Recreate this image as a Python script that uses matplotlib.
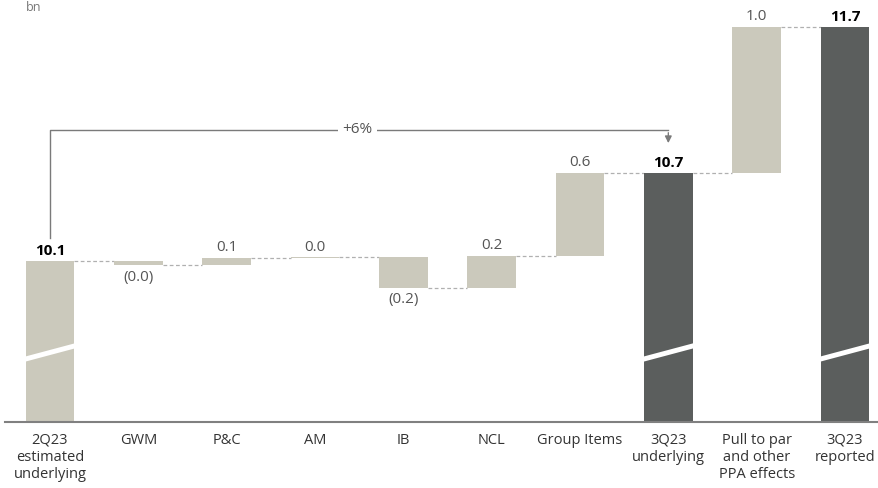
import numpy as np
import matplotlib.pyplot as plt

categories = ['2Q23\nestimated\nunderlying', 'GWM', 'P&C', 'AM', 'IB', 'NCL',
              'Group Items', '3Q23\nunderlying', 'Pull to par\nand other\nPPA effects',
              '3Q23\nreported']
start_value = 10.1
segment_deltas = [-0.03, 0.05, 0.005, -0.21, 0.22, 0.565]
ppa_delta = 1.0
value_labels = ['10.1', '(0.0)', '0.1', '0.0', '(0.2)', '0.2', '0.6', '10.7', '1.0', '11.7']
growth_label = '+6%'

beige = '#cbc9bc'
dark = '#5b5e5d'
grey_txt = '#555555'
font = 'Open Sans'

fig = plt.figure(figsize=(8.79, 4.88), dpi=100)
ax = fig.add_axes([0, 66 / 488, 1, 422 / 488])
ax.set_xlim(-0.566, 9.385)
ax.set_ylim(9.0, 11.884)
ax.axis('off')

w = 0.55
x = np.arange(len(categories))

# bar extents
bottoms, tops, kinds = [9.0], [start_value], ['total']
level = start_value
levels_after = [start_value]
for d in segment_deltas:
    bottoms.append(min(level, level + d))
    tops.append(max(level, level + d))
    kinds.append('pos' if d >= 0 else 'neg')
    level += d
    levels_after.append(level)
underlying = level
reported = underlying + ppa_delta
bottoms += [9.0, underlying, 9.0]
tops += [underlying, reported, reported]
kinds += ['total', 'pos', 'total']
levels_after += [underlying, reported, reported]

colors = [beige] * 7 + [dark, beige, dark]
ax.bar(x, np.array(tops) - np.array(bottoms), bottom=bottoms, width=w, color=colors, zorder=2)

# dashed connectors
for i in range(len(x) - 1):
    ax.plot([x[i] + w / 2, x[i + 1] - w / 2], [levels_after[i]] * 2,
            ls=(0, (3, 2)), color='#b0b0b0', lw=0.9, zorder=1)

# value labels
for i, lab in enumerate(value_labels):
    bold = kinds[i] == 'total'
    if kinds[i] == 'neg':
        ax.annotate(lab, (x[i], bottoms[i]), xytext=(0, -3), textcoords='offset points',
                    ha='center', va='top', fontsize=11, color=grey_txt, family=font)
    else:
        ax.annotate(lab, (x[i], tops[i]), xytext=(0, 2), textcoords='offset points',
                    ha='center', va='bottom', fontsize=11, family=font,
                    color='black' if bold else grey_txt,
                    fontweight='bold' if bold else 'normal')

# axis break marks on the total bars
for i in (0, 7, 9):
    xs = [x[i] - w / 2 - 0.02, x[i] - w / 2 - 0.02, x[i] + w / 2 + 0.02, x[i] + w / 2 + 0.02]
    ys = [9.41, 9.445, 9.54, 9.505]
    ax.fill(xs, ys, color='white', zorder=3, lw=0)

# baseline
ax.plot([-0.51, 9.385], [9.0, 9.0], color='#808080', lw=1.5, zorder=4, clip_on=False)

# category labels
for i, c in enumerate(categories):
    ax.text(x[i], 8.925, c, ha='center', va='top', fontsize=10.5, color='#333333',
            family=font, linespacing=1.2)

# growth arrow
arrow_y = 10.996
ax.plot([x[0], x[0], x[7]], [10.258, arrow_y, arrow_y], color='#7a7a7a', lw=1, zorder=2)
ax.annotate('', xy=(x[7], 10.887), xytext=(x[7], arrow_y),
            arrowprops=dict(arrowstyle='-|>', color='#7a7a7a', lw=1, mutation_scale=10))
ax.text(3.48, arrow_y, growth_label, ha='center', va='center', fontsize=11, color=grey_txt,
        family=font, bbox=dict(facecolor='white', edgecolor='none', pad=3), zorder=3)

fig.text(26 / 879, 1 - 1 / 488, 'bn', ha='left', va='top', fontsize=9,
         color='#777777', family=font)

fig.savefig('out.png', dpi=100)
